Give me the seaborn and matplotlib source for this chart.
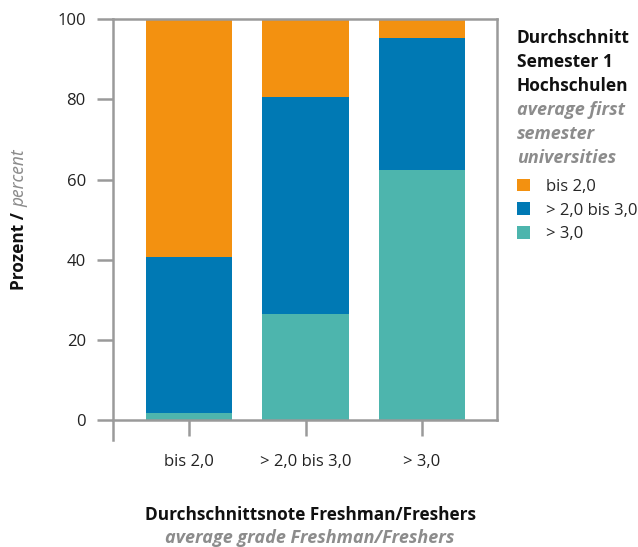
import numpy as np
import pandas as pd
import matplotlib
matplotlib.use("Agg")
import matplotlib.pyplot as plt
import seaborn as sns
from matplotlib.patches import Patch

# data (percent per grade group)
categories = ["bis 2,0", "> 2,0 bis 3,0", "> 3,0"]
series_names = ["bis 2,0", "> 2,0 bis 3,0", "> 3,0"]
share_bis_2 = [59.4, 19.5, 4.7]
share_2_bis_3 = [38.9, 54.1, 33.0]
share_over_3 = [1.7, 26.4, 62.3]
y_ticks = [0, 20, 40, 60, 80, 100]
legend_title_de = ["Durchschnitt", "Semester 1", "Hochschulen"]
legend_title_en = ["average first", "semester", "universities"]

colors = {"bis 2,0": "#F39110", "> 2,0 bis 3,0": "#0079B4", "> 3,0": "#4DB5AD"}
spine_gray = "#9a9a9a"
note_gray = "#8c8c8c"

sns.set_theme(style="white")
plt.rcParams['font.family'] = ['Open Sans', 'DejaVu Sans']

df = pd.DataFrame({
    "category": categories,
    "> 3,0": share_over_3,
    "> 2,0 bis 3,0": share_2_bis_3,
    "bis 2,0": share_bis_2,
})
# cumulative tops, drawn back to front so they stack
df["top_over_3"] = df["> 3,0"]
df["top_2_bis_3"] = df["top_over_3"] + df["> 2,0 bis 3,0"]
df["top_bis_2"] = df["top_2_bis_3"] + df["bis 2,0"]

fig = plt.figure(figsize=(6.38, 5.47), dpi=100)
ax = fig.add_axes([0.177, 0.232, 0.602, 0.733])

for col, name in [("top_bis_2", "bis 2,0"), ("top_2_bis_3", "> 2,0 bis 3,0"), ("top_over_3", "> 3,0")]:
    sns.barplot(data=df, x="category", y=col, color=colors[name], width=0.74,
                saturation=1, ax=ax, linewidth=0, order=categories)

ax.set_xlim(-0.655, 2.645)
ax.set_ylim(0, 100)
ax.set_yticks(y_ticks)
ax.set_yticklabels([str(v) for v in y_ticks])
ax.set_xlabel("")
ax.set_ylabel("")

for side in ["left", "right", "top", "bottom"]:
    ax.spines[side].set_color(spine_gray)
    ax.spines[side].set_linewidth(1.8)
    ax.spines[side].set_visible(True)
ax.spines["left"].set_bounds(-5, 100)

ax.tick_params(axis="both", which="both", length=11.5, width=1.8, color=spine_gray,
               labelsize=12, labelcolor="#222222")
ax.tick_params(axis="y", left=True, pad=8)
ax.tick_params(axis="x", bottom=True, pad=13)

# axis titles
fig.text(0.486, 1 - 515 / 547, "Durchschnittsnote Freshman/Freshers", ha="center", va="center",
         fontsize=12.4, fontweight="bold", color="#111111")
fig.text(0.486, 1 - 538 / 547, "average grade Freshman/Freshers", ha="center", va="center",
         fontsize=13, fontstyle="italic", fontweight="bold", color=note_gray)

fig.canvas.draw()
renderer = fig.canvas.get_renderer()
ylab1 = fig.text(0.030, 1 - 290 / 547, "Prozent /", rotation=90, rotation_mode="anchor",
                 ha="left", va="center", fontsize=12.4, fontweight="bold", color="#111111")
bb = ylab1.get_window_extent(renderer)
fig.text(0.030, (bb.y1 + 5) / fig.bbox.height, "percent", rotation=90, rotation_mode="anchor",
         ha="left", va="center", fontsize=12.4, fontstyle="italic", color=note_gray,
         family=["Noto Sans", "DejaVu Sans"])

# legend title block, one line every 24 px
for i, line in enumerate(legend_title_de + legend_title_en):
    bold_part = i < len(legend_title_de)
    fig.text(0.810, 1 - (38 + 24 * i) / 547, line, ha="left", va="center",
             fontsize=12.5 if bold_part else 13, fontweight="bold",
             fontstyle="normal" if bold_part else "italic",
             color="#111111" if bold_part else note_gray)

handles = [Patch(facecolor=colors[n], edgecolor="none") for n in series_names]
fig.legend(handles, series_names, loc="upper left", bbox_to_anchor=(0.800, 1 - 172 / 547),
           frameon=False, fontsize=12, handlelength=0.8, handleheight=0.8,
           handletextpad=0.95, labelspacing=0.45, borderaxespad=0)

fig.savefig("out.png", dpi=100)
